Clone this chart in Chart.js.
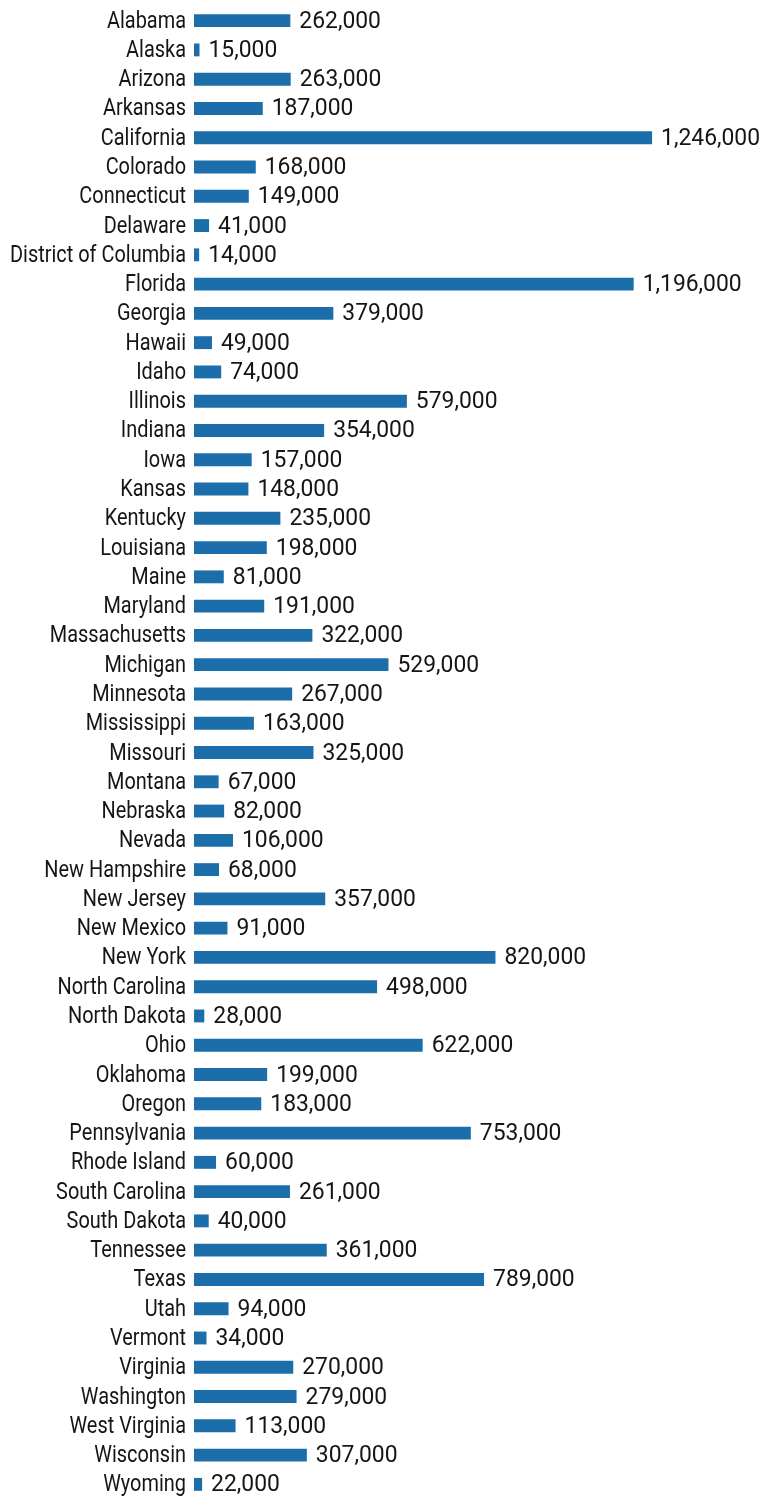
<!DOCTYPE html>
<html>
<head>
<meta charset="utf-8">
<script src="https://cdn.jsdelivr.net/npm/chart.js@4"></script>
<style>
  html, body { margin: 0; padding: 0; background: #fff; }
  #wrap { width: 762px; height: 1499px; position: relative; }
</style>
</head>
<body>
<div id="wrap"><canvas id="stateChart"></canvas></div>
<script>
const states = [
  "Alabama", "Alaska", "Arizona", "Arkansas", "California", "Colorado", "Connecticut",
  "Delaware", "District of Columbia", "Florida", "Georgia", "Hawaii", "Idaho", "Illinois",
  "Indiana", "Iowa", "Kansas", "Kentucky", "Louisiana", "Maine", "Maryland", "Massachusetts",
  "Michigan", "Minnesota", "Mississippi", "Missouri", "Montana", "Nebraska", "Nevada",
  "New Hampshire", "New Jersey", "New Mexico", "New York", "North Carolina", "North Dakota",
  "Ohio", "Oklahoma", "Oregon", "Pennsylvania", "Rhode Island", "South Carolina",
  "South Dakota", "Tennessee", "Texas", "Utah", "Vermont", "Virginia", "Washington",
  "West Virginia", "Wisconsin", "Wyoming"
];
const counts = [
  262000, 15000, 263000, 187000, 1246000, 168000, 149000,
  41000, 14000, 1196000, 379000, 49000, 74000, 579000,
  354000, 157000, 148000, 235000, 198000, 81000, 191000, 322000,
  529000, 267000, 163000, 325000, 67000, 82000, 106000,
  68000, 357000, 91000, 820000, 498000, 28000,
  622000, 199000, 183000, 753000, 60000, 261000,
  40000, 361000, 789000, 94000, 34000, 270000, 279000,
  113000, 307000, 22000
];

const FONT = "24px Roboto, 'DejaVu Sans', sans-serif";

// condensed text: state names left of the axis, values past each bar
const textLabels = {
  id: "textLabels",
  afterDatasetsDraw(chart) {
    const ctx = chart.ctx;
    const y = chart.scales.y;
    const meta = chart.getDatasetMeta(0);
    ctx.save();
    ctx.font = FONT;
    ctx.fillStyle = "#151515";
    ctx.textBaseline = "middle";
    const sx = 176 / ctx.measureText("District of Columbia").width;
    const sv = 99 / ctx.measureText("1,246,000").width;

    ctx.save();
    ctx.scale(sx, 1);
    ctx.textAlign = "right";
    states.forEach((s, i) => {
      ctx.fillText(s, (y.right - 8) / sx, y.getPixelForTick(i) + 1);
    });
    ctx.restore();

    ctx.save();
    ctx.scale(sv, 1);
    ctx.textAlign = "left";
    meta.data.forEach((bar, i) => {
      ctx.fillText(counts[i].toLocaleString("en-US"), (bar.x + 9) / sv, bar.y + 1);
    });
    ctx.restore();
    ctx.restore();
  }
};

new Chart(document.getElementById("stateChart"), {
  type: "bar",
  data: {
    labels: states,
    datasets: [{
      data: counts,
      backgroundColor: "#1b6eaa",
      barPercentage: 0.44,
      categoryPercentage: 1
    }]
  },
  options: {
    indexAxis: "y",
    responsive: true,
    maintainAspectRatio: false,
    animation: false,
    layout: { padding: { top: 6, bottom: 0, left: 0, right: 0 } },
    plugins: { legend: { display: false }, tooltip: { enabled: false } },
    scales: {
      x: { display: false, min: 0, max: 1545000 },
      y: {
        grid: { display: false },
        border: { display: false },
        ticks: { display: false, autoSkip: false },
        afterFit(scale) { scale.width = 194; }
      }
    }
  },
  plugins: [textLabels]
});
</script>
</body>
</html>
